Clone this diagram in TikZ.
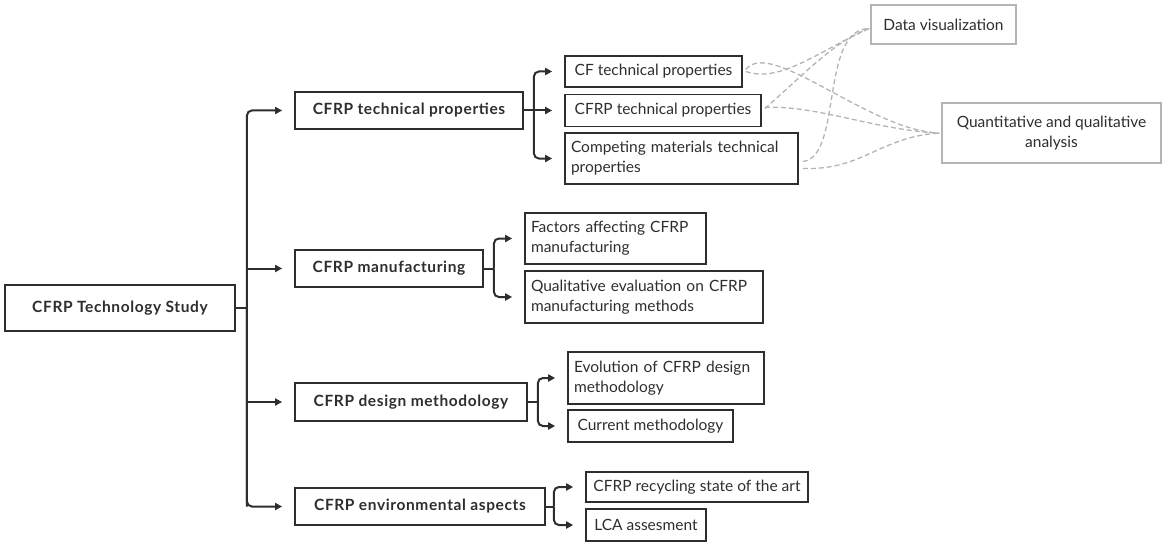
\documentclass[tikz,border=0pt]{standalone}
\usepackage{fontspec}
\setmainfont{Lato}
\newfontfamily\boldface[LetterSpace=4]{Lato Bold}
\usetikzlibrary{arrows.meta,calc}
\definecolor{ink}{HTML}{2E2E2E}
\definecolor{soft}{HTML}{B4B4B4}
\begin{document}
\begin{tikzpicture}[x=1pt,y=-1pt,
  txt/.style={font=\fontsize{15.5}{20}\selectfont, text=ink},
  bold/.style={font=\fontsize{15.5}{20}\selectfont\boldface, text=ink},
  mainbox/.style={draw=ink, line width=1.8pt, bold, inner sep=0pt, align=center},
  subbox/.style={draw=ink, line width=1.6pt, txt, inner xsep=6pt, inner ysep=0pt, align=left},
  onebox/.style={draw=ink, line width=1.6pt, txt, inner sep=0pt, align=center},
  outbox/.style={draw=soft, line width=1.3pt, txt, inner sep=0pt, align=center},
  conn/.style={draw=ink, line width=2pt},
  arr/.style={conn, -{Triangle[length=7pt,width=7pt]}, shorten >=12pt},
  dsh/.style={draw=soft, line width=1.3pt, dash pattern=on 5pt off 3pt}]
\useasboundingbox (0,0) rectangle (1163,543);

% root and level 1
\node[mainbox, minimum width=230pt, minimum height=46pt] (root) at (120,308) {CFRP Technology Study};
\node[mainbox, minimum width=228pt, minimum height=37pt] (t1) at (409,110.5) {CFRP technical properties};
\node[mainbox, minimum width=188pt, minimum height=37pt] (t2) at (389,268.5) {CFRP manufacturing};
\node[mainbox, minimum width=232pt, minimum height=38pt] (t3) at (411,402) {CFRP design methodology};
\node[mainbox, minimum width=250pt, minimum height=37pt] (t4) at (420,506.5) {CFRP environmental aspects};

% level 2
\node[onebox, minimum width=177pt, minimum height=31pt] (s11) at (653.5,71.5) {CF technical properties};
\node[onebox, minimum width=196pt, minimum height=32pt] (s12) at (663,110.5) {CFRP technical properties};
\node[subbox, text width=221pt, minimum height=51pt] (s13) at (681.5,158.5) {Competing materials technical\\properties};
\node[subbox, text width=169pt, minimum height=51pt] (s21) at (615.5,238.5) {Factors affecting CFRP\\manufacturing};
\node[subbox, text width=226pt, minimum height=52pt] (s22) at (644,297) {Qualitative evaluation on CFRP\\manufacturing methods};
\node[subbox, text width=184pt, minimum height=52pt] (s31) at (666,378) {Evolution of CFRP design\\methodology};
\node[onebox, minimum width=165pt, minimum height=32pt] (s32) at (650.5,426) {Current methodology};
\node[onebox, minimum width=222pt, minimum height=30pt] (s41) at (697,487) {CFRP recycling state of the art};
\node[onebox, minimum width=120pt, minimum height=32pt] (s42) at (646,525) {LCA assesment};

% outputs
\node[outbox, minimum width=145pt, minimum height=39pt] (dv) at (943.5,24.5) {Data visualization};
\node[outbox, minimum width=219pt, minimum height=60pt] (qa) at (1051.5,133) {Quantitative and qualitative\\analysis};

% trunk
\coordinate (tr) at ($(root.east)+(11,0)$);
\draw[conn] (root.east) -- (tr);
\draw[arr, rounded corners=5pt] (tr |- t4.west) |- (t1.west);
\draw[arr, rounded corners=5pt] (tr) |- (t4.west);
\draw[arr] (tr |- t2.west) -- (t2.west);
\draw[arr] (tr |- t3.west) -- (t3.west);

% bracket 1
\coordinate (b1) at ($(t1.east)+(10,0)$);
\draw[conn] (t1.east) -- (b1);
\draw[arr, rounded corners=5pt] (b1) |- (s11.west);
\draw[arr, rounded corners=5pt] (b1) |- (s13.west);
\draw[arr] (b1 |- s12.west) -- (s12.west);

% bracket 2
\coordinate (b2) at ($(t2.east)+(10,0)$);
\draw[conn] (t2.east) -- (b2);
\draw[arr, rounded corners=5pt] (b2) |- (s21.west);
\draw[arr, rounded corners=5pt] (b2) |- (s22.west);

% bracket 3
\coordinate (b3) at ($(t3.east)+(10,0)$);
\draw[conn] (t3.east) -- (b3);
\draw[arr, rounded corners=5pt] (b3) |- (s31.west);
\draw[arr, rounded corners=5pt] (b3) |- (s32.west);

% bracket 4
\coordinate (b4) at ($(t4.east)+(8,0)$);
\draw[conn] (t4.east) -- (b4);
\draw[arr, rounded corners=5pt] (b4) |- (s41.west);
\draw[arr, rounded corners=5pt] (b4) |- (s42.west);

% dashed links
\coordinate (dvin) at ($(dv.west)+(-1,4)$);
\coordinate (qain) at ($(qa.west)+(-2,0)$);
\draw[dsh] ($(s11.east)+(3,0)$) .. controls +(35,12) and +(-50,22) .. (dvin);
\draw[dsh] ($(s11.east)+(3,-2)$) .. controls +(25,-32) and +(-70,-2) .. (qain);
\draw[dsh] ($(s12.east)+(3,-2)$) .. controls +(35,-30) and +(-35,12) .. (dvin);
\draw[dsh] ($(s12.east)+(3,-3)$) .. controls +(50,-3) and +(-60,-2) .. (qain);
\draw[dsh] ($(s13.east)+(4,3)$) .. controls +(40,-4) and +(-50,0) .. (dvin);
\draw[dsh] ($(s13.east)+(4,10)$) .. controls +(60,2) and +(-60,4) .. (qain);
\end{tikzpicture}
\end{document}
